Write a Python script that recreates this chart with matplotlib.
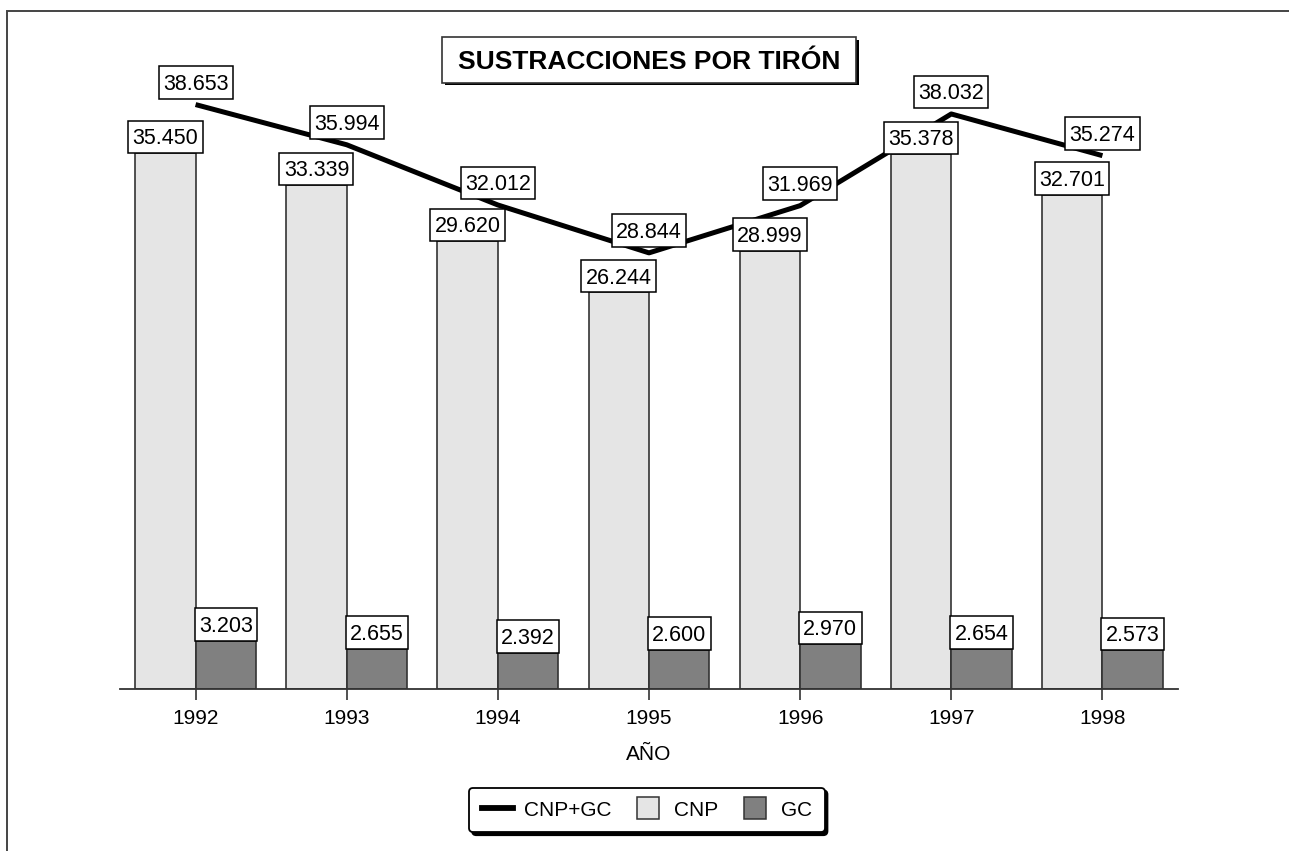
import matplotlib
matplotlib.use("Agg")
import matplotlib.pyplot as plt
from matplotlib.lines import Line2D
from matplotlib.patches import Rectangle
from matplotlib.path import Path
import matplotlib.patheffects as pe
import numpy as np

plt.rcParams['font.family'] = ['Liberation Sans', 'DejaVu Sans']

years = ['1992', '1993', '1994', '1995', '1996', '1997', '1998']
cnp = [35450, 33339, 29620, 26244, 28999, 35378, 32701]
gc = [3203, 2655, 2392, 2600, 2970, 2654, 2573]
total = [38653, 35994, 32012, 28844, 31969, 38032, 35274]

title = 'SUSTRACCIONES POR TIRÓN'
xlabel = 'AÑO'
legend_labels = ['CNP+GC', 'CNP', 'GC']

C_CNP = '#e5e5e5'
C_GC = '#808080'
EDGE = '#333333'


def fmt(v):
    return f"{v:,}".replace(',', '.')


def make_box(px, pbot, ptop):
    def box(x0, y0, width, height, mutation_size):
        l = x0 - px * mutation_size
        r = x0 + width + px * mutation_size
        b = y0 - pbot * mutation_size
        t = y0 + height + ptop * mutation_size
        return Path([(l, b), (r, b), (r, t), (l, t), (l, b)],
                    [Path.MOVETO, Path.LINETO, Path.LINETO, Path.LINETO, Path.CLOSEPOLY])
    return box


W, H = 1289, 851
fig = plt.figure(figsize=(W / 100, H / 100), dpi=100)

# outer frame (cut at right and bottom)
fig.patches.append(Rectangle((7 / W, -0.2), 1.5, 1 - 10.5 / H + 0.2,
                             transform=fig.transFigure, fill=False,
                             edgecolor='#444444', linewidth=1.4))

ax_left, ax_right, ax_base = 120, 1178, 689
scale = 0.01512  # px per unit
ymax = 45000
ax = fig.add_axes([ax_left / W, 1 - ax_base / H, (ax_right - ax_left) / W,
                   ymax * scale / H])
ax.set_xlim(-0.5, 6.5)
ax.set_ylim(0, ymax)
ax.patch.set_alpha(0)

x = np.arange(len(years))
bw = 0.4
ax.bar(x - bw / 2, cnp, width=bw, color=C_CNP, edgecolor=EDGE, linewidth=1.2, zorder=2)
ax.bar(x + bw / 2, gc, width=bw, color=C_GC, edgecolor=EDGE, linewidth=1.2, zorder=2)
ax.plot(x, total, color='black', linewidth=3.6, zorder=4, solid_capstyle='butt')

fs = 15.5
pbot = 0.17
box = dict(boxstyle=make_box(0.2, pbot, 0.36), facecolor='white',
           edgecolor='black', linewidth=1.1)
off = pbot * fs
for i in range(len(years)):
    ax.annotate(fmt(cnp[i]), (x[i] - bw / 2, cnp[i]), xytext=(0, off),
                textcoords='offset points', ha='center', va='bottom',
                fontsize=fs, bbox=box, zorder=6)
    ax.annotate(fmt(gc[i]), (x[i] + bw / 2, gc[i]), xytext=(0, off),
                textcoords='offset points', ha='center', va='bottom',
                fontsize=fs, bbox=box, zorder=6)
    ax.annotate(fmt(total[i]), (x[i], total[i]), xytext=(0, off + 4.3),
                textcoords='offset points', ha='center', va='bottom',
                fontsize=fs, bbox=box, zorder=6)

for s in ['top', 'right', 'left']:
    ax.spines[s].set_visible(False)
ax.spines['bottom'].set_color('#333333')
ax.spines['bottom'].set_linewidth(1.3)
ax.set_yticks([])
ax.set_xticks(x)
ax.set_xticklabels(years, fontsize=15)
ax.tick_params(axis='x', length=8, width=1.2, color='#333333', pad=6.5)
ax.set_xlabel(xlabel, fontsize=15, labelpad=12)

# title box with shadow
t = fig.text(649 / W, 1 - 62 / H, title, fontsize=19, fontweight='bold',
             ha='center', va='center',
             bbox=dict(boxstyle=make_box(0.6, 0.33, 0.5), facecolor='white',
                       edgecolor='#333333', linewidth=1.2))
t.get_bbox_patch().set_path_effects([
    pe.SimplePatchShadow(offset=(2, -2), shadow_rgbFace='black', alpha=1.0),
    pe.Normal()])

handles = [Line2D([], [], color='black', linewidth=4.2),
           Line2D([], [], ls='none', marker='s', markersize=16,
                  markerfacecolor=C_CNP, markeredgecolor=EDGE, markeredgewidth=1.1),
           Line2D([], [], ls='none', marker='s', markersize=16,
                  markerfacecolor=C_GC, markeredgecolor=EDGE, markeredgewidth=1.1)]
leg = fig.legend(handles, legend_labels, loc='center', bbox_to_anchor=(647 / W, 1 - 810 / H),
                 ncol=3, fontsize=15, frameon=True, fancybox=True,
                 shadow={'color': 'black', 'alpha': 1.0},
                 handlelength=1.5, handletextpad=0.5, columnspacing=1.0,
                 borderpad=0.62, framealpha=1)
leg.get_frame().set_edgecolor('black')
leg.get_frame().set_linewidth(1.3)

fig.savefig('out.png', dpi=100)
